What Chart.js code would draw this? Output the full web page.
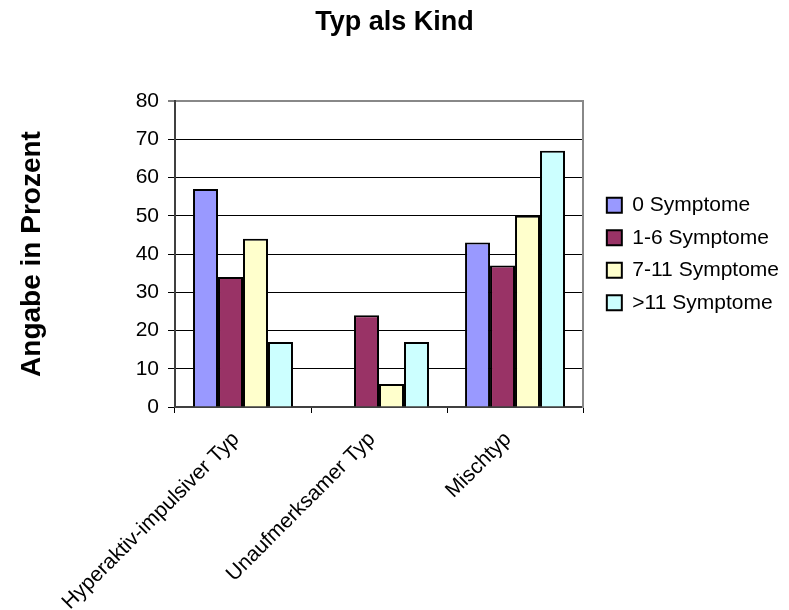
<!DOCTYPE html>
<html lang="de">
<head>
<meta charset="utf-8">
<title>Typ als Kind</title>
<script src="https://cdn.jsdelivr.net/npm/chart.js@4"></script>
<style>
    html, body { margin: 0; padding: 0; background: #ffffff; }
    #chartBox { width: 789px; height: 610px; }
</style>
</head>
<body>
<div id="chartBox">
    <canvas id="typChart" width="789" height="610"></canvas>
</div>
<script>
// Kategorien und Werte (Angabe in Prozent)
const categories = ['Hyperaktiv-impulsiver Typ', 'Unaufmerksamer Typ', 'Mischtyp'];
const seriesNames = ['0 Symptome', '1-6 Symptome', '7-11 Symptome', '>11 Symptome'];
const symptome0 = [57, 0, 43];
const symptome1to6 = [34, 24, 37];
const symptome7to11 = [44, 6, 50];
const symptomeOver11 = [17, 17, 67];
const yTicks = [0, 10, 20, 30, 40, 50, 60, 70, 80];

const seriesColors = ['#9999ff', '#993366', '#ffffcc', '#ccffff'];
const fontFamily = '"Liberation Sans", Arial, sans-serif';

Chart.defaults.color = '#000000';
Chart.defaults.font.family = fontFamily;

const seriesValues = [symptome0, symptome1to6, symptome7to11, symptomeOver11];

const datasets = seriesNames.map((name, i) => ({
    label: name,
    data: seriesValues[i],
    backgroundColor: seriesColors[i],
    borderColor: '#000000',
    borderWidth: 2,
    categoryPercentage: 0.735,
    barPercentage: 1.0
}));

new Chart(document.getElementById('typChart'), {
    type: 'bar',
    data: {
        labels: categories,
        datasets: datasets
    },
    options: {
        responsive: false,
        animation: false,
        layout: {
            padding: { left: 0, right: 0, top: 0, bottom: 0 }
        },
        plugins: {
            title: {
                display: true,
                text: 'Typ als Kind',
                font: { size: 27, weight: 'bold' },
                padding: { top: 6, bottom: 62.6 }
            },
            legend: {
                position: 'right',
                fullSize: false,
                maxWidth: 260,
                labels: {
                    boxWidth: 15,
                    boxHeight: 15,
                    padding: 11.5,
                    font: { size: 21 },
                    color: '#000000'
                }
            },
            tooltip: { enabled: false }
        },
        scales: {
            x: {
                grid: {
                    offset: true,
                    drawOnChartArea: false,
                    tickLength: 6,
                    color: '#000000'
                },
                border: { color: '#404040', width: 2 },
                ticks: {
                    font: { size: 21 },
                    minRotation: 45,
                    maxRotation: 45,
                    padding: 14,
                    labelOffset: -7,
                    color: '#000000'
                },
                afterFit: (scale) => { scale.height = 203; }
            },
            y: {
                min: 0,
                max: 80,
                afterBuildTicks: (scale) => {
                    scale.ticks = yTicks.map(v => ({ value: v }));
                },
                grid: {
                    color: (ctx) => ctx.tick && ctx.tick.value === 80 ? '#888888' : '#000000',
                    lineWidth: (ctx) => ctx.tick && ctx.tick.value === 80 ? 2 : 1,
                    tickColor: '#000000',
                    tickWidth: 1,
                    tickLength: 7
                },
                border: { color: '#404040', width: 2 },
                ticks: {
                    font: { size: 21 },
                    padding: 9,
                    color: '#000000'
                },
                title: {
                    display: true,
                    text: 'Angabe in Prozent',
                    font: { size: 28, weight: 'bold' },
                    padding: { top: 15, bottom: 0 }
                },
                afterFit: (scale) => { scale.width = 175; }
            },
            // rechter Rahmen der Zeichenfläche + Abstand zur Legende
            frame: {
                type: 'linear',
                position: 'right',
                grid: { drawOnChartArea: false, drawTicks: false },
                border: { color: '#888888', width: 2 },
                ticks: { display: false },
                afterFit: (scale) => { scale.width = 12.3; }
            }
        }
    }
});
</script>
</body>
</html>
